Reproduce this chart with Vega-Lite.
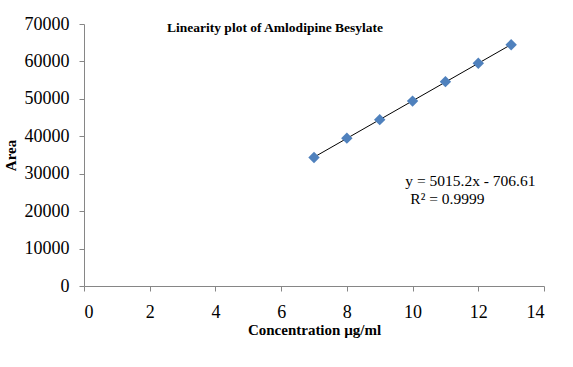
{
  "$schema": "https://vega.github.io/schema/vega-lite/v6.json",
  "width": 460,
  "height": 262,
  "padding": {"left": 84, "top": 24, "right": 29, "bottom": 81},
  "autosize": {"type": "none"},
  "background": "white",
  "config": {
    "view": {"stroke": null},
    "font": "Liberation Serif",
    "axis": {
      "grid": false,
      "domainColor": "#868686",
      "tickColor": "#868686",
      "tickSize": 5,
      "labelFont": "Liberation Serif",
      "labelFontSize": 18,
      "labelColor": "black",
      "labelOverlap": false,
      "titleFont": "Liberation Serif",
      "titleFontSize": 15,
      "titleFontWeight": "bold",
      "titleColor": "black"
    }
  },
  "title": {
    "text": "Linearity plot of Amlodipine Besylate",
    "font": "Liberation Serif",
    "fontSize": 13.5,
    "fontWeight": "bold",
    "color": "black",
    "anchor": "middle",
    "dx": -39,
    "offset": -19
  },
  "datasets": {
    "pts": [
      {"conc": 7, "area": 34350},
      {"conc": 8, "area": 39500},
      {"conc": 9, "area": 44450},
      {"conc": 10, "area": 49400},
      {"conc": 11, "area": 54600},
      {"conc": 12, "area": 59500},
      {"conc": 13, "area": 64450}
    ],
    "eq": [
      {"conc": 11.76, "area": 28000, "label": "y = 5015.2x - 706.61"},
      {"conc": 11.06, "area": 23200, "label": "R² = 0.9999"}
    ]
  },
  "encoding": {
    "x": {
      "field": "conc",
      "type": "quantitative",
      "scale": {"domain": [0, 14], "nice": false},
      "axis": {"values": [0, 2, 4, 6, 8, 10, 12, 14], "labelPadding": 12, "title": "Concentration µg/ml", "titlePadding": 1}
    },
    "y": {
      "field": "area",
      "type": "quantitative",
      "scale": {"domain": [0, 70000], "nice": false},
      "axis": {"values": [0, 10000, 20000, 30000, 40000, 50000, 60000, 70000], "labelPadding": 10, "format": "d", "title": "Area", "titlePadding": 6}
    }
  },
  "layer": [
    {
      "data": {"name": "pts"},
      "transform": [{"regression": "area", "on": "conc"}],
      "mark": {"type": "line", "color": "black", "strokeWidth": 1}
    },
    {
      "data": {"name": "pts"},
      "mark": {"type": "point", "shape": "diamond", "filled": true, "color": "#4F81BD", "opacity": 1, "size": 130}
    },
    {
      "data": {"name": "eq"},
      "mark": {"type": "text", "font": "Liberation Serif", "fontSize": 15.5, "color": "black"},
      "encoding": {
        "text": {"field": "label"}
      }
    }
  ]
}
